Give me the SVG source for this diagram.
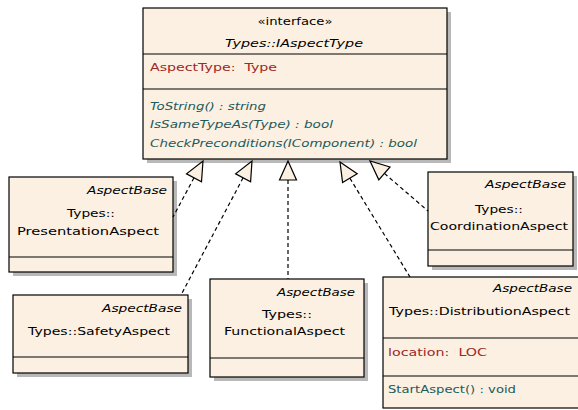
<svg xmlns="http://www.w3.org/2000/svg" width="578" height="410" viewBox="0 0 578 410">
<style>
.box{fill:#FBF0E2;stroke:#000;stroke-width:1.2}
.sh{fill:#B8B8B8}
.div{stroke:#000;stroke-width:1.2}
text{font-family:"DejaVu Sans","Verdana",sans-serif;font-size:11px;fill:#000}
.it{font-style:italic}
.attr{fill:#A02828}
.op{fill:#1E5A5A}
.dash{fill:none;stroke:#000;stroke-width:1.2;stroke-dasharray:4,3}
.tri{fill:#FBF0E2;stroke:#000;stroke-width:1.2;stroke-linejoin:miter}
</style>
<rect width="578" height="410" fill="#fff"/>
<g id="IAspectType">
<rect class="sh" x="147" y="12" width="304" height="151"/>
<rect class="box" x="143" y="8" width="304" height="151"/>
<line class="div" x1="143" y1="54" x2="447" y2="54"/>
<line class="div" x1="143" y1="89" x2="447" y2="89"/>
<text x="295" y="25" text-anchor="middle" textLength="75" lengthAdjust="spacingAndGlyphs">«interface»</text>
<text class="it" x="294" y="47" text-anchor="middle" textLength="138" lengthAdjust="spacingAndGlyphs">Types::IAspectType</text>
<text class="attr" x="150" y="71" textLength="127" lengthAdjust="spacingAndGlyphs" xml:space="preserve">AspectType:  Type</text>
<text class="op it" x="150" y="110" textLength="116" lengthAdjust="spacingAndGlyphs">ToString() : string</text>
<text class="op it" x="150" y="128" textLength="183" lengthAdjust="spacingAndGlyphs">IsSameTypeAs(Type) : bool</text>
<text class="op it" x="150" y="147" textLength="267" lengthAdjust="spacingAndGlyphs">CheckPreconditions(IComponent) : bool</text>
</g>
<g id="PresentationAspect">
<rect class="sh" x="13" y="181" width="164" height="95"/>
<rect class="box" x="9" y="177" width="164" height="95"/>
<line class="div" x1="9" y1="257" x2="173" y2="257"/>
<text class="it" x="167" y="194" text-anchor="end" textLength="80" lengthAdjust="spacingAndGlyphs">AspectBase</text>
<text x="91" y="217" text-anchor="middle" textLength="48" lengthAdjust="spacingAndGlyphs">Types::</text>
<text x="88" y="235" text-anchor="middle" textLength="142" lengthAdjust="spacingAndGlyphs">PresentationAspect</text>
</g>
<g id="CoordinationAspect">
<rect class="sh" x="432" y="176" width="145" height="94"/>
<rect class="box" x="428" y="172" width="145" height="94"/>
<line class="div" x1="428" y1="250" x2="573" y2="250"/>
<text class="it" x="566" y="188" text-anchor="end" textLength="81" lengthAdjust="spacingAndGlyphs">AspectBase</text>
<text x="499" y="213" text-anchor="middle" textLength="48" lengthAdjust="spacingAndGlyphs">Types::</text>
<text x="499" y="230" text-anchor="middle" textLength="138" lengthAdjust="spacingAndGlyphs">CoordinationAspect</text>
</g>
<g id="SafetyAspect">
<rect class="sh" x="17" y="299" width="175" height="78"/>
<rect class="box" x="13" y="295" width="175" height="78"/>
<line class="div" x1="13" y1="357" x2="188" y2="357"/>
<text class="it" x="182" y="312" text-anchor="end" textLength="80" lengthAdjust="spacingAndGlyphs">AspectBase</text>
<text x="28" y="335" textLength="142" lengthAdjust="spacingAndGlyphs">Types::SafetyAspect</text>
</g>
<g id="FunctionalAspect">
<rect class="sh" x="214" y="283" width="154" height="98"/>
<rect class="box" x="210" y="279" width="154" height="98"/>
<line class="div" x1="210" y1="358" x2="364" y2="358"/>
<text class="it" x="355" y="296" text-anchor="end" textLength="78" lengthAdjust="spacingAndGlyphs">AspectBase</text>
<text x="287" y="318" text-anchor="middle" textLength="50" lengthAdjust="spacingAndGlyphs">Types::</text>
<text x="284.5" y="335" text-anchor="middle" textLength="121" lengthAdjust="spacingAndGlyphs">FunctionalAspect</text>
</g>
<g id="DistributionAspect">
<rect class="box" x="383" y="277" width="210" height="131"/>
<line class="div" x1="383" y1="338" x2="578" y2="338"/>
<line class="div" x1="383" y1="376" x2="578" y2="376"/>
<text class="it" x="572" y="292" text-anchor="end" textLength="79" lengthAdjust="spacingAndGlyphs">AspectBase</text>
<text x="389" y="315" textLength="181" lengthAdjust="spacingAndGlyphs">Types::DistributionAspect</text>
<text class="attr" x="388" y="356" textLength="99" lengthAdjust="spacingAndGlyphs" xml:space="preserve">location:  LOC</text>
<text class="op" x="388" y="393" textLength="128" lengthAdjust="spacingAndGlyphs">StartAspect() : void</text>
</g>
<g id="connectors">
<line class="dash" x1="194" y1="177.8" x2="173" y2="217"/>
<polygon class="tri" points="203,161 201.5,181.8 186.5,173.8"/>
<line class="dash" x1="243.1" y1="177.8" x2="181" y2="295"/>
<polygon class="tri" points="252,161 250.6,181.8 235.6,173.8"/>
<line class="dash" x1="288" y1="180" x2="288" y2="279"/>
<polygon class="tri" points="288,161 279.5,180 296.5,180"/>
<line class="dash" x1="349.9" y1="178.2" x2="410" y2="277"/>
<polygon class="tri" points="340,162 342.6,182.6 357.2,173.8"/>
<line class="dash" x1="384.4" y1="173.4" x2="428" y2="211"/>
<polygon class="tri" points="370,161 378.8,179.8 390,167"/>
</g>
</svg>
